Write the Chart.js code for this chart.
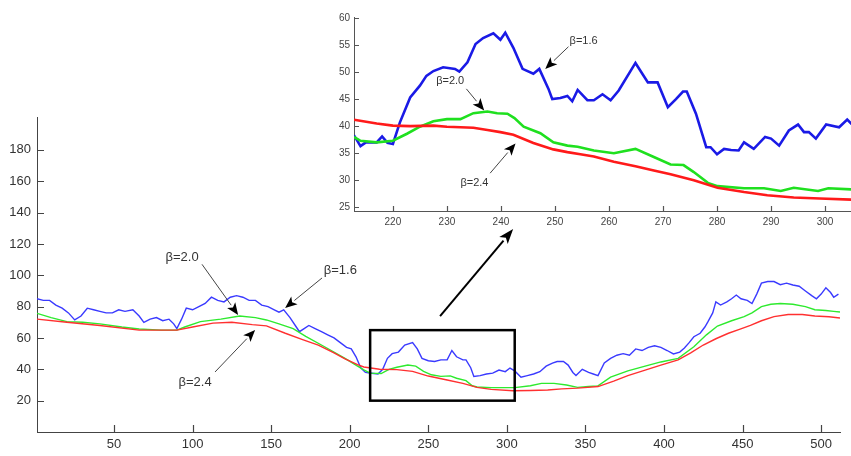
<!DOCTYPE html>
<html>
<head>
<meta charset="utf-8">
<script src="https://cdn.jsdelivr.net/npm/chart.js@4/dist/chart.umd.min.js"></script>
<style>
  html, body { margin: 0; padding: 0; background: #fff; }
  #wrap { position: relative; width: 851px; height: 456px; overflow: hidden; }
  #mainBox { position: absolute; left: 0; top: 0; width: 851px; height: 456px; }
  #insetBox { position: absolute; left: 300px; top: 0; width: 551px; height: 240px; }
</style>
</head>
<body>
<div id="wrap">
  <div id="mainBox"><canvas id="main"></canvas></div>
  <div id="insetBox"><canvas id="inset"></canvas></div>
</div>
<script>
// Valeurs : paires [x, y]

// graphique principal
const mainBlue = [[1,85],[5,84],[9,84],[13,81],[17,79],[21,76],[25,71.5],[29,74],[33,79],[37,78],[41,77],[45,76],[49,76],[53,78],[57,77],[62,78],[66,74],[69,70],[73,72],[77,73],[81,71],[85,72],[88,69],[90,66],[93,72],[96,79],[100,78],[104,80],[108,82],[112,86],[116,84],[120,83],[124,86],[128,87],[132,86],[136,84],[140,84],[144,81],[148,80],[152,78],[155,76.5],[158,78],[162,73],[166,67],[168,64],[171,66],[174,68],[178,66],[182,64],[186,62],[190,60],[194,57],[198,54],[201,53],[204,48],[207,41],[210,38],[214,37.5],[218,37],[221,40],[224,47],[227,50],[231,51],[235,55.5],[240,57],[243,53],[246,47],[250,45.5],[254,45],[258,46],[262,46],[265,52],[268,48],[272,46],[274,46],[277,41],[279,35.5],[283,36],[287,37],[291,37.6],[295,39.5],[299,38.5],[302,40.8],[305,39],[309,35],[313,36],[317,37],[321,38.5],[325,42],[329,44],[332,45],[336,45],[339,42.7],[342,38],[344,36],[348,40],[352,38],[355,37],[358,36],[362,44],[366,47],[370,49],[374,50],[378,49],[382,53],[386,52],[390,54],[394,55],[398,54],[402,52],[406,49.8],[410,51],[413,53.6],[416,57],[419,60.8],[423,63],[426,67],[428,70.4],[431,76],[433,83],[436,81],[440,83],[443,85],[446,87.4],[449,85],[453,84],[456,82],[459,88],[462,95],[466,96],[470,96],[474,94],[478,95],[482,93.8],[486,93],[490,90],[494,87],[497,85],[500,88],[503,92],[506,89],[508,86],[511,88]];
const mainGreen = [[1,75.7],[10,73],[20,70.4],[30,70],[41,69],[55,67],[66,65.7],[80,65],[90,65],[95,67],[105,70.4],[118,72],[130,74],[140,73],[147,71.5],[155,69],[164,66],[172,61],[184,54.4],[197,47],[205,42],[209,39.6],[213,37.6],[220,37.3],[225,40],[230,41.3],[237,42.7],[242,42],[247,38.7],[252,36.5],[258,35.5],[264,35.8],[268,34.3],[274,32.8],[278,29.5],[281,28.7],[290,28.3],[300,28.3],[305,28.3],[315,29.5],[322,31],[330,31],[338,30],[345,28.5],[352,29],[358,29.4],[366,35],[377,39],[388,42],[398,44.7],[409,47],[419,54.4],[427,62],[434,67.6],[443,71],[451,73.6],[456,76],[462,80],[468,81.5],[474,82],[482,81.5],[490,80],[496,78],[503,77.5],[508,77],[512,76.6]];
const mainRed = [[1,72],[20,70],[41,68],[66,65],[90,65],[100,67],[113,69.5],[125,70],[138,68.5],[147,67.7],[159,63],[170,59],[180,55.5],[190,50.5],[197,46.6],[205,43],[209,41.5],[219,40],[230,39.8],[240,38.7],[250,35.7],[262,33.2],[272,31],[281,28.5],[290,27.2],[304,26.3],[315,26.5],[326,26.8],[335,27.5],[345,28],[358,29],[368,32.5],[377,36],[388,39.5],[398,42.7],[409,46],[417,50.5],[425,55.5],[433,59.5],[441,63],[448,65.5],[455,68],[462,71],[470,73.6],[479,75],[488,75],[496,74],[505,73.5],[512,72.7]];
const mainXTicks = [50, 100, 150, 200, 250, 300, 350, 400, 450, 500];
const mainYTicks = [20, 40, 60, 80, 100, 120, 140, 160, 180];

// agrandissement (encart)
const insetBlue = [[212.8,38.3],[214,36.3],[215,37],[217,37],[218,38.1],[219,36.9],[220,36.7],[221.3,40.7],[223.2,45.3],[225,47.5],[226.2,49.3],[227.5,50.2],[229.3,50.9],[231.5,50.6],[232.3,50.1],[233.8,51.8],[235.3,55.2],[236.7,56.3],[238.6,57.2],[239.9,56],[240.8,57.3],[242.3,54.5],[244,50.6],[246,49.7],[247.1,50.6],[248.8,46.9],[249.5,45],[251,45.2],[252.3,45.6],[253.2,44.6],[254.2,46.7],[256,44.8],[257.2,44.8],[258.8,45.9],[260.3,44.8],[261.8,46.6],[264.9,51.7],[267.2,48.1],[269,48.1],[270.9,43.5],[272.4,45],[273.7,46.4],[274.4,46.4],[276.1,42.3],[278,36.1],[278.8,36.1],[280,34.8],[281.3,35.8],[282.6,35.6],[284,35.5],[285,37],[286.8,35.8],[288.9,38],[290,37.7],[291.5,36.4],[293.3,39.2],[295,40.3],[296.1,38.9],[297,38.9],[298.3,37.7],[300.2,40.3],[302.6,39.8],[304.1,41.2],[305,40.3]];
const insetGreen = [[212.8,38],[214,37.3],[217,37],[220,37.3],[222.6,38.6],[225,39.9],[227.5,40.9],[230,41.3],[232.5,41.3],[234.9,42.4],[237.5,42.7],[239.3,42.4],[241.2,42.3],[242.5,41.5],[244.2,39.9],[247.3,38.7],[249.7,37],[252.3,36.4],[254.2,36.2],[257.2,35.5],[260.9,35],[264.9,35.8],[268.3,34.3],[271.4,32.9],[273.8,32.8],[275.7,31.5],[278.3,29.5],[280.1,28.9],[285,28.5],[288.7,28.5],[291.8,28],[294.2,28.6],[298.7,28],[300.6,28.5],[305,28.3]];
const insetRed = [[212.8,41.2],[217,40.5],[220,40.1],[223.2,40],[227.5,40.1],[230,39.9],[232.5,39.8],[234.9,39.7],[237.5,39.3],[239.9,38.9],[242.3,38.4],[246,36.9],[249.7,35.7],[252.3,35.2],[254.7,34.8],[257.2,34.4],[260.9,33.4],[264.9,32.6],[268.3,31.8],[271.4,31.1],[275.7,30],[280.1,28.6],[285,27.8],[289.3,27.2],[294.2,26.8],[299,26.6],[305,26.4]];
const insetXTicks = [220, 230, 240, 250, 260, 270, 280, 290, 300];
const insetYTicks = [25, 30, 35, 40, 45, 50, 55, 60];

// annotations (coordonnées en unités des données)
const mainNotes = [
  { text: 'β=2.0', at: [93.3, 111.7], from: [106, 107], to: [129, 74.7] },
  { text: 'β=1.6', at: [194, 103.4], from: [182.4, 98.3], to: [158.9, 79.1] },
  { text: 'β=2.4', at: [101.6, 31.9], from: [114.3, 38.3], to: [139.8, 65.1] }
];
const insetNotes = [
  { text: 'β=1.6', at: [255.3, 55.8], from: [252.5, 54.7], to: [248.2, 50.6] },
  { text: 'β=2.0', at: [230.6, 48.4], from: [233.6, 46.9], to: [236.9, 42.9] },
  { text: 'β=2.4', at: [235.1, 29.4], from: [238, 31.3], to: [242.7, 36.8] }
];
const zoomBox = { x: [213, 305], y: [20, 65] };
const zoomArrow = { from: [257.5, 74], to: [304, 129.5] };

const FONT = "'Liberation Sans', Arial, sans-serif";

const toPts = arr => arr.map(p => ({ x: p[0], y: p[1] }));

function drawArrow(ctx, x1, y1, x2, y2, lineColor, lineWidth, headLen, headW) {
  const ang = Math.atan2(y2 - y1, x2 - x1);
  const bx = x2 - headLen * Math.cos(ang);
  const by = y2 - headLen * Math.sin(ang);
  ctx.strokeStyle = lineColor;
  ctx.lineWidth = lineWidth;
  ctx.beginPath();
  ctx.moveTo(x1, y1);
  ctx.lineTo(bx, by);
  ctx.stroke();
  ctx.fillStyle = '#000';
  ctx.beginPath();
  ctx.moveTo(x2, y2);
  ctx.lineTo(bx + headW * Math.sin(ang), by - headW * Math.cos(ang));
  ctx.lineTo(x2 - headLen * 0.75 * Math.cos(ang), y2 - headLen * 0.75 * Math.sin(ang));
  ctx.lineTo(bx - headW * Math.sin(ang), by + headW * Math.cos(ang));
  ctx.closePath();
  ctx.fill();
}

// Ticks vers l'intérieur (style Matlab) + annotations
const decorations = {
  id: 'decorations',
  afterDraw(chart, args, opts) {
    const { ctx, chartArea: a, scales: { x, y } } = chart;
    ctx.save();
    ctx.strokeStyle = opts.axisColor;
    ctx.lineWidth = 1.2;
    ctx.beginPath();
    x.ticks.forEach(t => {
      const px = Math.round(x.getPixelForValue(t.value)) + 0.5;
      ctx.moveTo(px, a.bottom);
      ctx.lineTo(px, a.bottom - opts.tickLen);
    });
    y.ticks.forEach(t => {
      const py = Math.round(y.getPixelForValue(t.value)) + 0.5;
      ctx.moveTo(a.left, py);
      ctx.lineTo(a.left + opts.tickLen, py);
    });
    ctx.stroke();

    if (opts.box) {
      const x1 = x.getPixelForValue(opts.box.x[0]), x2 = x.getPixelForValue(opts.box.x[1]);
      const y1 = y.getPixelForValue(opts.box.y[1]), y2 = y.getPixelForValue(opts.box.y[0]);
      ctx.strokeStyle = '#000';
      ctx.lineWidth = 2.5;
      ctx.strokeRect(x1, y1, x2 - x1, y2 - y1);
    }
    if (opts.bigArrow) {
      const f = opts.bigArrow.from, t = opts.bigArrow.to;
      drawArrow(ctx, x.getPixelForValue(f[0]), y.getPixelForValue(f[1]),
        x.getPixelForValue(t[0]), y.getPixelForValue(t[1]), '#000', 2, 15, 5.5);
    }

    ctx.font = opts.noteFont;
    ctx.textAlign = 'center';
    ctx.textBaseline = 'middle';
    opts.notes.forEach(n => {
      drawArrow(ctx, x.getPixelForValue(n.from[0]), y.getPixelForValue(n.from[1]),
        x.getPixelForValue(n.to[0]), y.getPixelForValue(n.to[1]), '#444', 1, 12, 5);
      ctx.fillStyle = '#333';
      ctx.fillText(n.text, x.getPixelForValue(n.at[0]), y.getPixelForValue(n.at[1]));
    });
    ctx.restore();
  }
};

function lineSet(data, color, width) {
  return {
    data: toPts(data),
    borderColor: color,
    borderWidth: width,
    pointRadius: 0,
    tension: 0,
    fill: false
  };
}

function axis(opts) {
  return {
    type: 'linear',
    min: opts.min,
    max: opts.max,
    grid: { display: false, drawTicks: false },
    border: { display: true, color: opts.axisColor, width: 1 },
    afterBuildTicks: s => { s.ticks = opts.ticks.map(v => ({ value: v })); },
    afterFit: s => { if (opts.width) s.width = opts.width; if (opts.height) s.height = opts.height; },
    ticks: {
      autoSkip: false,
      maxRotation: 0,
      padding: opts.pad,
      color: opts.labelColor,
      font: { family: FONT, size: opts.fontSize }
    }
  };
}

new Chart(document.getElementById('main'), {
  type: 'line',
  data: {
    datasets: [
      lineSet(mainRed, '#ff3030', 1.4),
      lineSet(mainGreen, '#2eea2e', 1.4),
      lineSet(mainBlue, '#3a3aff', 1.4)
    ]
  },
  options: {
    responsive: true,
    maintainAspectRatio: false,
    animation: false,
    parsing: false,
    layout: { padding: { top: 117, right: 11, left: 0, bottom: 0 } },
    plugins: {
      legend: { display: false },
      tooltip: { enabled: false },
      decorations: {
        axisColor: '#444', tickLen: 7, notes: mainNotes,
        noteFont: '13px ' + FONT, box: zoomBox, bigArrow: zoomArrow
      }
    },
    scales: {
      x: axis({ min: 1, max: 512, ticks: mainXTicks, height: 24, pad: 5, fontSize: 13, labelColor: '#333', axisColor: '#444' }),
      y: axis({ min: 0, max: 201, ticks: mainYTicks, width: 37, pad: 6, fontSize: 13, labelColor: '#333', axisColor: '#444' })
    }
  },
  plugins: [decorations]
});

new Chart(document.getElementById('inset'), {
  type: 'line',
  data: {
    datasets: [
      lineSet(insetRed, '#ff1a1a', 2.6),
      lineSet(insetGreen, '#1fe01f', 2.6),
      lineSet(insetBlue, '#1a1ae6', 2.6)
    ]
  },
  options: {
    responsive: true,
    maintainAspectRatio: false,
    animation: false,
    parsing: false,
    layout: { padding: { top: 17, right: 0, left: 0, bottom: 0 } },
    plugins: {
      legend: { display: false },
      tooltip: { enabled: false },
      decorations: { axisColor: '#555', tickLen: 5, notes: insetNotes, noteFont: '11px ' + FONT }
    },
    scales: {
      x: axis({ min: 212.8, max: 304.8, ticks: insetXTicks, height: 29, pad: 5, fontSize: 10, labelColor: '#444', axisColor: '#555' }),
      y: axis({ min: 24.3, max: 60.2, ticks: insetYTicks, width: 54, pad: 4, fontSize: 10, labelColor: '#444', axisColor: '#555' })
    }
  },
  plugins: [decorations]
});
</script>
</body>
</html>
